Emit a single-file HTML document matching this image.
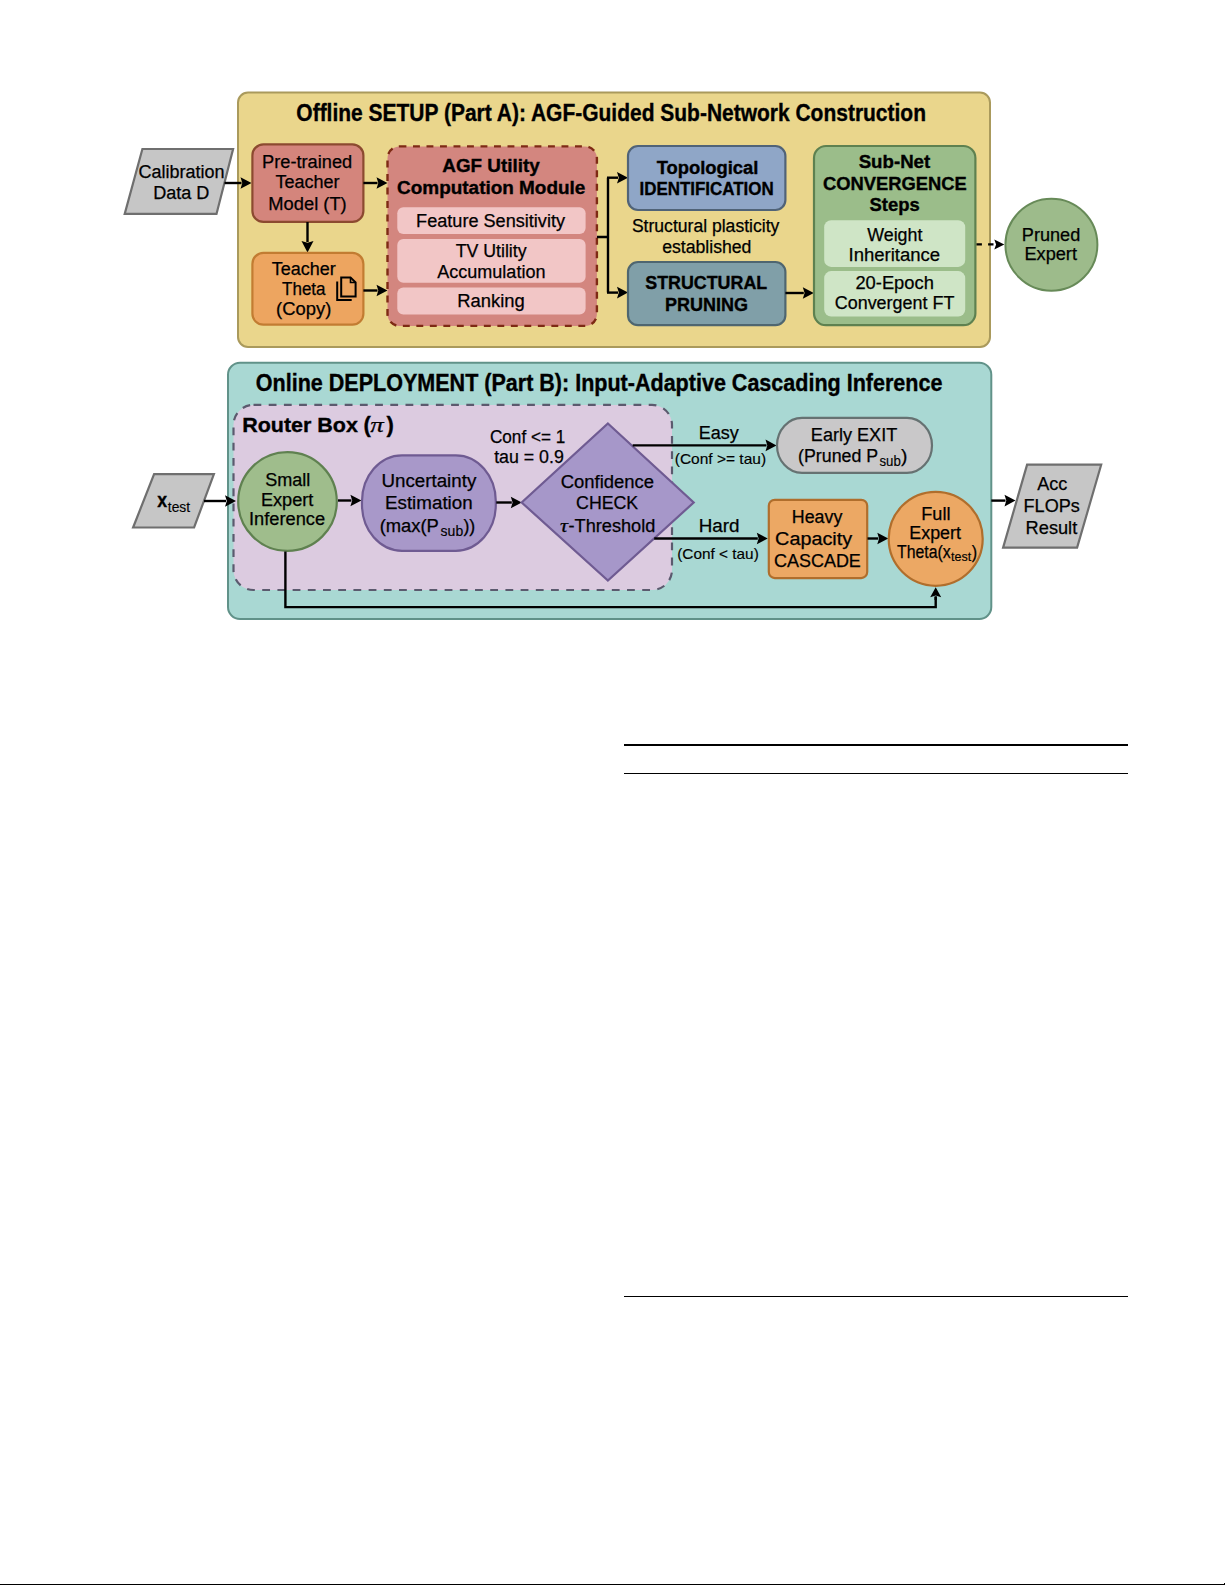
<!DOCTYPE html>
<html><head><meta charset="utf-8">
<style>
html,body{margin:0;padding:0;background:#fff;}
body{width:1225px;height:1585px;position:relative;overflow:hidden;}
svg{position:absolute;left:0;top:0;}
text{font-family:"Liberation Sans",sans-serif;}
</style></head><body>
<svg width="1225" height="1585" viewBox="0 0 1225 1585">
<rect x="238" y="92.5" width="752" height="254.5" rx="10" fill="#ead68c" stroke="#aa9a5c" stroke-width="2"/>
<text x="296.34" y="120.70" font-size="23" font-weight="bold" fill="#000" stroke="#000" stroke-width="0.35" textLength="629.65" lengthAdjust="spacingAndGlyphs">Offline SETUP (Part A): AGF-Guided Sub-Network Construction</text>
<polygon points="142.4,149 233.1,149 216.5,213.9 124.7,213.9" fill="#c6c6c6" stroke="#6f6f6f" stroke-width="2.2" stroke-linejoin="miter"/>
<text x="138.44" y="178.00" font-size="18" font-weight="normal" fill="#000" stroke="#000" stroke-width="0.25" textLength="85.98" lengthAdjust="spacingAndGlyphs">Calibration</text>
<text x="153.17" y="198.80" font-size="18" font-weight="normal" fill="#000" stroke="#000" stroke-width="0.25" textLength="56.25" lengthAdjust="spacingAndGlyphs">Data D</text>
<line x1="224.5" y1="183" x2="241.50" y2="183.00" stroke="#000" stroke-width="2.4"/>
<path d="M251.50,183.00 L240.50,188.80 L242.30,183.00 L240.50,177.20 Z" fill="#000"/>
<rect x="252.4" y="144.4" width="111" height="77.5" rx="11" fill="#d4857c" stroke="#8c4a30" stroke-width="2.2"/>
<text x="262.05" y="167.50" font-size="18" font-weight="normal" fill="#000" stroke="#000" stroke-width="0.25" textLength="90.17" lengthAdjust="spacingAndGlyphs">Pre-trained</text>
<text x="275.51" y="188.40" font-size="18" font-weight="normal" fill="#000" stroke="#000" stroke-width="0.25" textLength="64.08" lengthAdjust="spacingAndGlyphs">Teacher</text>
<text x="268.35" y="210.00" font-size="18" font-weight="normal" fill="#000" stroke="#000" stroke-width="0.25" textLength="78.34" lengthAdjust="spacingAndGlyphs">Model (T)</text>
<line x1="363.4" y1="183" x2="377.50" y2="183.00" stroke="#000" stroke-width="2.4"/>
<path d="M387.50,183.00 L376.50,188.80 L378.30,183.00 L376.50,177.20 Z" fill="#000"/>
<line x1="307.5" y1="222" x2="307.50" y2="242.00" stroke="#000" stroke-width="2.4"/>
<path d="M307.50,252.50 L301.50,241.00 L307.50,242.80 L313.50,241.00 Z" fill="#000"/>
<rect x="252.4" y="252.9" width="111" height="71.8" rx="11" fill="#eda560" stroke="#c27c32" stroke-width="2.2"/>
<text x="271.66" y="274.90" font-size="18" font-weight="normal" fill="#000" stroke="#000" stroke-width="0.25" textLength="63.98" lengthAdjust="spacingAndGlyphs">Teacher</text>
<text x="282.07" y="294.90" font-size="18" font-weight="normal" fill="#000" stroke="#000" stroke-width="0.25" textLength="43.48" lengthAdjust="spacingAndGlyphs">Theta</text>
<text x="276.11" y="314.80" font-size="18" font-weight="normal" fill="#000" stroke="#000" stroke-width="0.25" textLength="55.18" lengthAdjust="spacingAndGlyphs">(Copy)</text>
<path d="M337.2,281.6 L337.2,299.9 L351.7,299.9" fill="none" stroke="#000" stroke-width="2"/>
<path d="M341.2,277.4 L350.5,277.4 L355.6,282.5 L355.6,296.6 L341.2,296.6 Z" fill="none" stroke="#000" stroke-width="2" stroke-linejoin="miter"/>
<path d="M350.5,277.4 L350.5,282.5 L355.6,282.5" fill="none" stroke="#000" stroke-width="1.6"/>
<line x1="363.4" y1="290.5" x2="377.50" y2="290.50" stroke="#000" stroke-width="2.4"/>
<path d="M387.50,290.50 L376.50,296.30 L378.30,290.50 L376.50,284.70 Z" fill="#000"/>
<rect x="387.5" y="146.4" width="209.4" height="179.5" rx="12" fill="#d3867f" stroke="#7e2a14" stroke-width="2.4" stroke-dasharray="6.9 6.6"/>
<text x="442.38" y="171.50" font-size="18" font-weight="bold" fill="#000" stroke="#000" stroke-width="0.35" textLength="97.27" lengthAdjust="spacingAndGlyphs">AGF Utility</text>
<text x="397.12" y="193.50" font-size="18" font-weight="bold" fill="#000" stroke="#000" stroke-width="0.35" textLength="188.22" lengthAdjust="spacingAndGlyphs">Computation Module</text>
<rect x="397.3" y="207.2" width="188.3" height="26.7" rx="6" fill="#f2c6c6" stroke="none" stroke-width="0"/>
<rect x="397.3" y="239.1" width="188.3" height="43.6" rx="6" fill="#f2c6c6" stroke="none" stroke-width="0"/>
<rect x="397.3" y="287.4" width="188.3" height="27.2" rx="6" fill="#f2c6c6" stroke="none" stroke-width="0"/>
<text x="416.11" y="227.20" font-size="18" font-weight="normal" fill="#000" stroke="#000" stroke-width="0.25" textLength="148.92" lengthAdjust="spacingAndGlyphs">Feature Sensitivity</text>
<text x="455.70" y="256.50" font-size="18" font-weight="normal" fill="#000" stroke="#000" stroke-width="0.25" textLength="70.84" lengthAdjust="spacingAndGlyphs">TV Utility</text>
<text x="437.26" y="277.90" font-size="18" font-weight="normal" fill="#000" stroke="#000" stroke-width="0.25" textLength="108.21" lengthAdjust="spacingAndGlyphs">Accumulation</text>
<text x="457.29" y="307.20" font-size="18" font-weight="normal" fill="#000" stroke="#000" stroke-width="0.25" textLength="67.49" lengthAdjust="spacingAndGlyphs">Ranking</text>
<path d="M597,237 L608,237 M608,177.7 L608,292.6" fill="none" stroke="#000" stroke-width="2.4"/>
<line x1="607" y1="177.7" x2="618.00" y2="177.70" stroke="#000" stroke-width="2.4"/>
<path d="M628.00,177.70 L617.00,183.50 L618.80,177.70 L617.00,171.90 Z" fill="#000"/>
<line x1="607" y1="292.6" x2="618.00" y2="292.60" stroke="#000" stroke-width="2.4"/>
<path d="M628.00,292.60 L617.00,298.40 L618.80,292.60 L617.00,286.80 Z" fill="#000"/>
<rect x="628" y="146" width="157.4" height="64" rx="10" fill="#8fa6c7" stroke="#506378" stroke-width="2.2"/>
<text x="656.65" y="173.90" font-size="18" font-weight="bold" fill="#000" stroke="#000" stroke-width="0.35" textLength="101.79" lengthAdjust="spacingAndGlyphs">Topological</text>
<text x="639.48" y="195.00" font-size="18" font-weight="bold" fill="#000" stroke="#000" stroke-width="0.35" textLength="134.25" lengthAdjust="spacingAndGlyphs">IDENTIFICATION</text>
<text x="631.90" y="232.20" font-size="18" font-weight="normal" fill="#000" stroke="#000" stroke-width="0.25" textLength="147.43" lengthAdjust="spacingAndGlyphs">Structural plasticity</text>
<text x="662.15" y="252.90" font-size="18" font-weight="normal" fill="#000" stroke="#000" stroke-width="0.25" textLength="89.29" lengthAdjust="spacingAndGlyphs">established</text>
<rect x="628" y="262" width="157.4" height="63.2" rx="10" fill="#809fa8" stroke="#4f6670" stroke-width="2.2"/>
<text x="645.24" y="289.30" font-size="18" font-weight="bold" fill="#000" stroke="#000" stroke-width="0.35" textLength="121.96" lengthAdjust="spacingAndGlyphs">STRUCTURAL</text>
<text x="665.10" y="311.10" font-size="18" font-weight="bold" fill="#000" stroke="#000" stroke-width="0.35" textLength="82.92" lengthAdjust="spacingAndGlyphs">PRUNING</text>
<line x1="785.4" y1="293" x2="803.80" y2="293.00" stroke="#000" stroke-width="2.4"/>
<path d="M813.80,293.00 L802.80,298.80 L804.60,293.00 L802.80,287.20 Z" fill="#000"/>
<rect x="814" y="146" width="161.4" height="179.2" rx="12" fill="#9bbd8a" stroke="#5e8150" stroke-width="2.2"/>
<text x="858.66" y="167.90" font-size="18" font-weight="bold" fill="#000" stroke="#000" stroke-width="0.35" textLength="71.57" lengthAdjust="spacingAndGlyphs">Sub-Net</text>
<text x="822.90" y="189.90" font-size="18" font-weight="bold" fill="#000" stroke="#000" stroke-width="0.35" textLength="143.77" lengthAdjust="spacingAndGlyphs">CONVERGENCE</text>
<text x="869.52" y="210.80" font-size="18" font-weight="bold" fill="#000" stroke="#000" stroke-width="0.35" textLength="50.19" lengthAdjust="spacingAndGlyphs">Steps</text>
<rect x="824.2" y="220.2" width="141" height="46.7" rx="7" fill="#cfe5c6" stroke="none" stroke-width="0"/>
<rect x="824.2" y="271.1" width="141" height="45.5" rx="7" fill="#cfe5c6" stroke="none" stroke-width="0"/>
<text x="867.27" y="240.80" font-size="18" font-weight="normal" fill="#000" stroke="#000" stroke-width="0.25" textLength="55.11" lengthAdjust="spacingAndGlyphs">Weight</text>
<text x="848.54" y="261.40" font-size="18" font-weight="normal" fill="#000" stroke="#000" stroke-width="0.25" textLength="91.63" lengthAdjust="spacingAndGlyphs">Inheritance</text>
<text x="855.43" y="288.80" font-size="18" font-weight="normal" fill="#000" stroke="#000" stroke-width="0.25" textLength="78.41" lengthAdjust="spacingAndGlyphs">20-Epoch</text>
<text x="834.74" y="308.90" font-size="18" font-weight="normal" fill="#000" stroke="#000" stroke-width="0.25" textLength="119.62" lengthAdjust="spacingAndGlyphs">Convergent FT</text>
<line x1="976.5" y1="244.4" x2="995.30" y2="244.40" stroke="#000" stroke-width="2.4" stroke-dasharray="5.4 6.2"/>
<path d="M1004.30,244.40 L994.30,249.40 L996.10,244.40 L994.30,239.40 Z" fill="#000"/>
<circle cx="1051.4" cy="244.8" r="46" fill="#9dbb8b" stroke="#678a58" stroke-width="2"/>
<text x="1021.81" y="240.80" font-size="18" font-weight="normal" fill="#000" stroke="#000" stroke-width="0.25" textLength="58.46" lengthAdjust="spacingAndGlyphs">Pruned</text>
<text x="1024.46" y="260.40" font-size="18" font-weight="normal" fill="#000" stroke="#000" stroke-width="0.25" textLength="52.52" lengthAdjust="spacingAndGlyphs">Expert</text>
<rect x="228" y="362.8" width="763.3" height="256.2" rx="12" fill="#a9d8d3" stroke="#619289" stroke-width="2"/>
<text x="255.82" y="391.20" font-size="23" font-weight="bold" fill="#000" stroke="#000" stroke-width="0.35" textLength="686.62" lengthAdjust="spacingAndGlyphs">Online DEPLOYMENT (Part B): Input-Adaptive Cascading Inference</text>
<rect x="233.5" y="404.9" width="438.5" height="185.1" rx="20" fill="#dccbe0" stroke="#5b5a6e" stroke-width="2.2" stroke-dasharray="7.8 7.4"/>
<text x="242.16" y="431.90" font-size="21" font-weight="bold" fill="#000" stroke="#000" stroke-width="0.35" textLength="115.79" lengthAdjust="spacingAndGlyphs">Router Box</text>
<text x="363.50" y="432.10" font-size="22" font-weight="bold" fill="#000" stroke="#000" stroke-width="0.35">(</text>
<text x="370.16" y="431.90" font-size="21" font-weight="normal" fill="#000" stroke="#000" stroke-width="0.25" textLength="13.43" lengthAdjust="spacingAndGlyphs" style="font-family:'Liberation Serif',serif;font-style:italic">π</text>
<text x="386.58" y="432.10" font-size="22" font-weight="bold" fill="#000" stroke="#000" stroke-width="0.35">)</text>
<polygon points="154.1,474.1 213.9,474.1 194.1,527.5 133.1,527.5" fill="#c6c6c6" stroke="#6f6f6f" stroke-width="2.2" stroke-linejoin="miter"/>
<line x1="204" y1="501" x2="226.00" y2="501.00" stroke="#000" stroke-width="2.4"/>
<path d="M236.00,501.00 L225.00,506.80 L226.80,501.00 L225.00,495.20 Z" fill="#000"/>
<text x="157.18" y="507.10" font-size="20" font-weight="bold" fill="#000" stroke="#000" stroke-width="0.35" textLength="9.85" lengthAdjust="spacingAndGlyphs">x</text>
<text x="167.79" y="512.20" font-size="15" font-weight="normal" fill="#000" stroke="#000" stroke-width="0.15" textLength="22.31" lengthAdjust="spacingAndGlyphs">test</text>
<circle cx="287.5" cy="501.5" r="49.3" fill="#9fbd8c" stroke="#5f8150" stroke-width="2.2"/>
<text x="265.13" y="486.30" font-size="18" font-weight="normal" fill="#000" stroke="#000" stroke-width="0.25" textLength="45.13" lengthAdjust="spacingAndGlyphs">Small</text>
<text x="260.91" y="505.50" font-size="18" font-weight="normal" fill="#000" stroke="#000" stroke-width="0.25" textLength="52.42" lengthAdjust="spacingAndGlyphs">Expert</text>
<text x="249.02" y="524.90" font-size="18" font-weight="normal" fill="#000" stroke="#000" stroke-width="0.25" textLength="76.10" lengthAdjust="spacingAndGlyphs">Inference</text>
<line x1="338" y1="500.5" x2="351.40" y2="500.50" stroke="#000" stroke-width="2.4"/>
<path d="M361.40,500.50 L350.40,506.30 L352.20,500.50 L350.40,494.70 Z" fill="#000"/>
<rect x="362" y="455.3" width="133.8" height="95.5" rx="40" ry="46" fill="#a898c9" stroke="#6f5b92" stroke-width="2.2"/>
<text x="381.45" y="486.80" font-size="18" font-weight="normal" fill="#000" stroke="#000" stroke-width="0.25" textLength="94.88" lengthAdjust="spacingAndGlyphs">Uncertainty</text>
<text x="385.01" y="509.10" font-size="18" font-weight="normal" fill="#000" stroke="#000" stroke-width="0.25" textLength="87.66" lengthAdjust="spacingAndGlyphs">Estimation</text>
<text x="379.66" y="531.70" font-size="18" font-weight="normal" fill="#000" stroke="#000" stroke-width="0.25" textLength="59.21" lengthAdjust="spacingAndGlyphs">(max(P</text>
<text x="440.61" y="535.70" font-size="14.5" font-weight="normal" fill="#000" stroke="#000" stroke-width="0.15" textLength="22.58" lengthAdjust="spacingAndGlyphs">sub</text>
<text x="463.40" y="531.70" font-size="18" font-weight="normal" fill="#000" stroke="#000" stroke-width="0.25" textLength="11.91" lengthAdjust="spacingAndGlyphs">))</text>
<line x1="496.3" y1="502.5" x2="511.80" y2="502.50" stroke="#000" stroke-width="2.4"/>
<path d="M521.80,502.50 L510.80,508.30 L512.60,502.50 L510.80,496.70 Z" fill="#000"/>
<polygon points="607.9,423.5 693.7,502.5 607.9,580.6 521.7,502.5" fill="#a697c9" stroke="#6f5b92" stroke-width="2.2" stroke-linejoin="miter"/>
<text x="560.76" y="487.70" font-size="18" font-weight="normal" fill="#000" stroke="#000" stroke-width="0.25" textLength="93.36" lengthAdjust="spacingAndGlyphs">Confidence</text>
<text x="576.10" y="509.30" font-size="18" font-weight="normal" fill="#000" stroke="#000" stroke-width="0.25" textLength="62.10" lengthAdjust="spacingAndGlyphs">CHECK</text>
<text x="559.91" y="532.10" font-size="18" font-weight="normal" fill="#000" stroke="#000" stroke-width="0.25" textLength="7.92" lengthAdjust="spacingAndGlyphs" style="font-family:'Liberation Serif',serif;font-style:italic">τ</text>
<text x="568.59" y="532.10" font-size="18" font-weight="normal" fill="#000" stroke="#000" stroke-width="0.25" textLength="86.78" lengthAdjust="spacingAndGlyphs">-Threshold</text>
<text x="489.93" y="442.50" font-size="18" font-weight="normal" fill="#000" stroke="#000" stroke-width="0.25" textLength="75.31" lengthAdjust="spacingAndGlyphs">Conf &lt;= 1</text>
<text x="494.13" y="462.60" font-size="18" font-weight="normal" fill="#000" stroke="#000" stroke-width="0.25" textLength="69.71" lengthAdjust="spacingAndGlyphs">tau = 0.9</text>
<line x1="632.7" y1="445.4" x2="766.50" y2="445.40" stroke="#000" stroke-width="2.4"/>
<path d="M776.50,445.40 L765.50,451.20 L767.30,445.40 L765.50,439.60 Z" fill="#000"/>
<text x="698.77" y="438.50" font-size="18" font-weight="normal" fill="#000" stroke="#000" stroke-width="0.25" textLength="40.01" lengthAdjust="spacingAndGlyphs">Easy</text>
<text x="674.74" y="463.80" font-size="15" font-weight="normal" fill="#000" stroke="#000" stroke-width="0.15" textLength="91.32" lengthAdjust="spacingAndGlyphs">(Conf &gt;= tau)</text>
<rect x="777" y="417.9" width="155" height="55" rx="25" ry="27.5" fill="#c9c8c9" stroke="#667272" stroke-width="2.2"/>
<text x="810.87" y="441.00" font-size="18" font-weight="normal" fill="#000" stroke="#000" stroke-width="0.25" textLength="86.40" lengthAdjust="spacingAndGlyphs">Early EXIT</text>
<text x="798.10" y="462.40" font-size="18" font-weight="normal" fill="#000" stroke="#000" stroke-width="0.25" textLength="80.04" lengthAdjust="spacingAndGlyphs">(Pruned P</text>
<text x="879.43" y="466.00" font-size="14" font-weight="normal" fill="#000" stroke="#000" stroke-width="0.15" textLength="21.32" lengthAdjust="spacingAndGlyphs">sub</text>
<text x="901.09" y="462.40" font-size="18" font-weight="normal" fill="#000" stroke="#000" stroke-width="0.25" textLength="6.41" lengthAdjust="spacingAndGlyphs">)</text>
<line x1="654.2" y1="538.5" x2="757.80" y2="538.50" stroke="#000" stroke-width="2.4"/>
<path d="M767.80,538.50 L756.80,544.30 L758.60,538.50 L756.80,532.70 Z" fill="#000"/>
<text x="698.66" y="531.60" font-size="18" font-weight="normal" fill="#000" stroke="#000" stroke-width="0.25" textLength="40.75" lengthAdjust="spacingAndGlyphs">Hard</text>
<text x="677.25" y="558.60" font-size="15" font-weight="normal" fill="#000" stroke="#000" stroke-width="0.15" textLength="81.50" lengthAdjust="spacingAndGlyphs">(Conf &lt; tau)</text>
<rect x="768.8" y="499.8" width="98.4" height="78.3" rx="6" fill="#eca864" stroke="#b06e2c" stroke-width="2.2"/>
<text x="791.84" y="523.10" font-size="18" font-weight="normal" fill="#000" stroke="#000" stroke-width="0.25" textLength="50.50" lengthAdjust="spacingAndGlyphs">Heavy</text>
<text x="775.09" y="545.10" font-size="18" font-weight="normal" fill="#000" stroke="#000" stroke-width="0.25" textLength="77.04" lengthAdjust="spacingAndGlyphs">Capacity</text>
<text x="773.99" y="566.70" font-size="18" font-weight="normal" fill="#000" stroke="#000" stroke-width="0.25" textLength="86.88" lengthAdjust="spacingAndGlyphs">CASCADE</text>
<line x1="867.5" y1="538.5" x2="878.30" y2="538.50" stroke="#000" stroke-width="2.4"/>
<path d="M888.30,538.50 L877.30,544.30 L879.10,538.50 L877.30,532.70 Z" fill="#000"/>
<circle cx="935.7" cy="538.8" r="47" fill="#eca864" stroke="#b06e2c" stroke-width="2.2"/>
<text x="921.26" y="519.70" font-size="18" font-weight="normal" fill="#000" stroke="#000" stroke-width="0.25" textLength="29.20" lengthAdjust="spacingAndGlyphs">Full</text>
<text x="909.34" y="539.10" font-size="18" font-weight="normal" fill="#000" stroke="#000" stroke-width="0.25" textLength="51.60" lengthAdjust="spacingAndGlyphs">Expert</text>
<text x="897.04" y="558.00" font-size="18" font-weight="normal" fill="#000" stroke="#000" stroke-width="0.25" textLength="53.63" lengthAdjust="spacingAndGlyphs">Theta(x</text>
<text x="951.11" y="561.40" font-size="13" font-weight="normal" fill="#000" stroke="#000" stroke-width="0.15" textLength="20.08" lengthAdjust="spacingAndGlyphs">test</text>
<text x="971.70" y="558.00" font-size="18" font-weight="normal" fill="#000" stroke="#000" stroke-width="0.25" textLength="5.40" lengthAdjust="spacingAndGlyphs">)</text>
<path d="M285.4,551.4 L285.4,607.1 L935.7,607.1 L935.7,597" fill="none" stroke="#000" stroke-width="2.4"/>
<line x1="935.7" y1="600" x2="935.70" y2="596.20" stroke="#000" stroke-width="2.4"/>
<path d="M935.70,587.20 L941.20,597.20 L935.70,595.40 L930.20,597.20 Z" fill="#000"/>
<line x1="991.3" y1="500.6" x2="1005.50" y2="500.60" stroke="#000" stroke-width="2.4"/>
<path d="M1015.50,500.60 L1004.50,506.40 L1006.30,500.60 L1004.50,494.80 Z" fill="#000"/>
<polygon points="1027.1,464.7 1101.2,464.7 1077.1,547.6 1003.1,547.6" fill="#c6c6c6" stroke="#6f6f6f" stroke-width="2.2" stroke-linejoin="miter"/>
<text x="1037.26" y="490.30" font-size="18" font-weight="normal" fill="#000" stroke="#000" stroke-width="0.25" textLength="30.11" lengthAdjust="spacingAndGlyphs">Acc</text>
<text x="1023.57" y="512.10" font-size="18" font-weight="normal" fill="#000" stroke="#000" stroke-width="0.25" textLength="56.24" lengthAdjust="spacingAndGlyphs">FLOPs</text>
<text x="1025.61" y="533.80" font-size="18" font-weight="normal" fill="#000" stroke="#000" stroke-width="0.25" textLength="51.63" lengthAdjust="spacingAndGlyphs">Result</text>
<rect x="624" y="744" width="504" height="2" fill="#000"/>
<rect x="624" y="773" width="504" height="1" fill="#000"/>
<rect x="624" y="1296" width="504" height="1" fill="#000"/>
<rect x="0" y="1584" width="1225" height="1" fill="#000"/>
<rect x="1224" y="1583" width="1" height="1" fill="#000"/>
</svg>
</body></html>
